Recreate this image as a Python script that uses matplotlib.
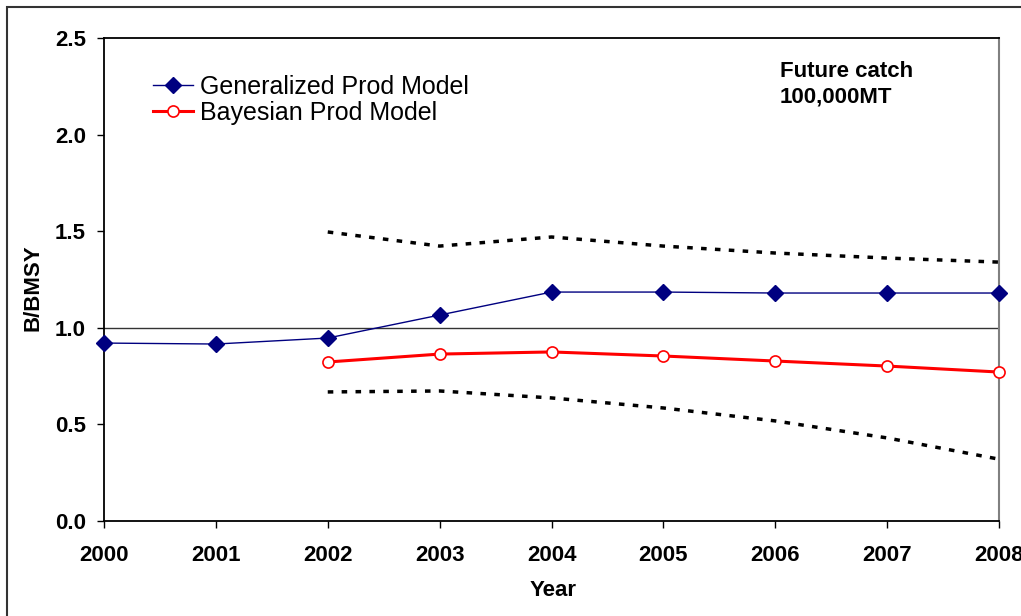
import matplotlib
matplotlib.use("Agg")
import matplotlib.pyplot as plt
from matplotlib.patches import Rectangle

years = [2000, 2001, 2002, 2003, 2004, 2005, 2006, 2007, 2008]
gen_years = [2000, 2001, 2002, 2003, 2004, 2005, 2006, 2007, 2008]
gen_vals = [0.921, 0.916, 0.947, 1.066, 1.185, 1.185, 1.180, 1.180, 1.180]
bay_years = [2002, 2003, 2004, 2005, 2006, 2007, 2008]
bay_vals = [0.823, 0.864, 0.875, 0.854, 0.828, 0.802, 0.771]
upper_vals = [1.496, 1.423, 1.470, 1.423, 1.387, 1.361, 1.340]
lower_vals = [0.668, 0.673, 0.637, 0.585, 0.518, 0.430, 0.320]
yticks = [0.0, 0.5, 1.0, 1.5, 2.0, 2.5]
ytick_labels = ["0.0", "0.5", "1.0", "1.5", "2.0", "2.5"]

plt.rcParams['font.family'] = ['Liberation Sans', 'DejaVu Sans']

fig = plt.figure(figsize=(10.21, 6.16), dpi=100)
ax = fig.add_axes([104/1021, 1 - 521/616, (999-104)/1021, (521-38)/616])

# outer figure border (left & top visible)
fig.patches.append(Rectangle((7/1021, -0.1), 1.2, (616-7)/616 + 0.1, transform=fig.transFigure,
                             fill=False, edgecolor='#333333', linewidth=1.5, zorder=0))

ax.axhline(1.0, color='#333333', linewidth=1.0, zorder=1)

ax.plot(years[2:], upper_vals, color='black', linewidth=2.5, linestyle=(0, (1.6, 2.4)), zorder=2)
ax.plot(years[2:], lower_vals, color='black', linewidth=2.5, linestyle=(0, (1.6, 2.4)), zorder=2)

ax.plot(gen_years, gen_vals, color='#000080', linewidth=1.0, marker='D', markersize=8,
        markerfacecolor='#000080', markeredgecolor='#000080', label='Generalized Prod Model',
        zorder=4, clip_on=False)
ax.plot(bay_years, bay_vals, color='#ff0000', linewidth=2.2, marker='o', markersize=8,
        markerfacecolor='white', markeredgecolor='#ff0000', markeredgewidth=1.2,
        label='Bayesian Prod Model', zorder=3, clip_on=False)

ax.set_xlim(2000, 2008)
ax.set_ylim(0, 2.5)
ax.set_xticks(years)
ax.set_xticklabels([str(y) for y in years], fontsize=16, fontweight='bold')
ax.set_yticks(yticks)
ax.set_yticklabels(ytick_labels, fontsize=16, fontweight='bold')
ax.tick_params(axis='x', direction='out', length=5, width=1, pad=12)
ax.tick_params(axis='y', direction='out', length=5, width=1, pad=8)

for s in ['left', 'bottom', 'top']:
    ax.spines[s].set_color('black')
    ax.spines[s].set_linewidth(1.3)
ax.spines['right'].set_color('#808080')
ax.spines['right'].set_linewidth(1.5)

ax.set_xlabel('Year', fontsize=16, fontweight='bold')
ax.set_ylabel('B/BMSY', fontsize=16, fontweight='bold')
ax.xaxis.set_label_coords((553-104)/895, -(590-521)/483)
ax.yaxis.set_label_coords((33-104)/895, (521-288)/483)
ax.xaxis.label.set_va('center')
ax.yaxis.label.set_va('center')

leg = ax.legend(loc='upper left', bbox_to_anchor=(0.0547, 0.924), frameon=False, fontsize=18,
                handlelength=1.6, handletextpad=0.3, labelspacing=0.1, borderaxespad=0,
                borderpad=0)

ax.text((780-104)/895, (521-61)/483, 'Future catch\n100,000MT', transform=ax.transAxes, fontsize=16,
        fontweight='bold', va='top', ha='left', linespacing=1.3)

fig.savefig('out.png', dpi=100)
